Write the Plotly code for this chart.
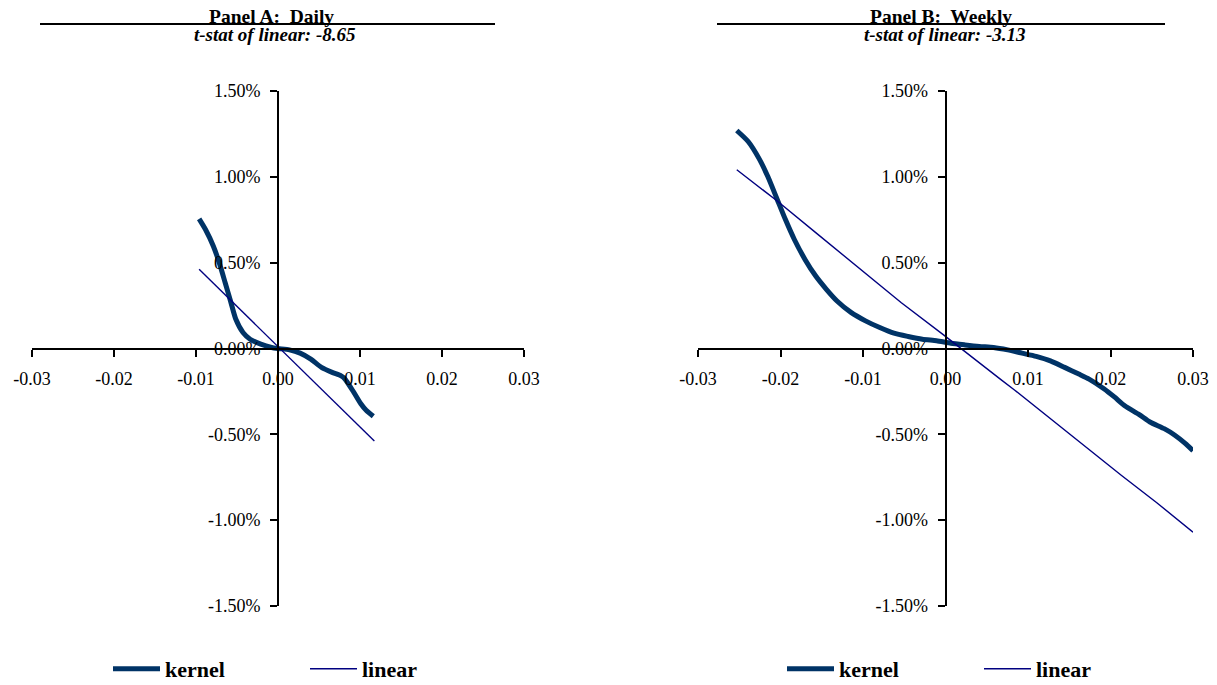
import plotly.graph_objects as go

# ---------------- data (y in percent) ----------------
kernel_a_x = [-0.00962, -0.00884, -0.00788, -0.0071, -0.00644, -0.00579, -0.00514, -0.00427,
              -0.0034, -0.0021, -0.00078, 0.0, 0.0014, 0.0027, 0.004, 0.0053, 0.0066, 0.0077,
              0.00814, 0.00923, 0.0101, 0.01075, 0.01162]
kernel_a_y = [0.755, 0.693, 0.596, 0.49, 0.383, 0.277, 0.170, 0.093, 0.054, 0.025, 0.006, 0.0,
              -0.008, -0.027, -0.062, -0.11, -0.139, -0.159, -0.176, -0.254, -0.322, -0.36, -0.395]

linear_a_x = [-0.00962, -0.005, -0.0015, 0.0, 0.004, 0.008, 0.01175]
linear_a_y = [0.461, 0.245, 0.083, 0.012, -0.176, -0.36, -0.539]

kernel_b_x = [-0.0253, -0.02392, -0.02263, -0.02155, -0.02047, -0.0194, -0.01832, -0.01703,
              -0.01573, -0.01444, -0.01315, -0.01142, -0.0097, -0.00797, -0.00625, -0.00453,
              -0.0028, -0.00108, 0.00065, 0.00237, 0.0041, 0.00582, 0.00754, 0.00927, 0.01099,
              0.01272, 0.01444, 0.01616, 0.0174, 0.0192, 0.02047, 0.02177, 0.02349, 0.02478,
              0.02651, 0.0278, 0.02909, 0.03]
kernel_b_y = [1.270, 1.206, 1.109, 1.003, 0.877, 0.751, 0.635, 0.519, 0.422, 0.345, 0.277, 0.209,
              0.161, 0.122, 0.089, 0.070, 0.054, 0.045, 0.031, 0.021, 0.012, 0.006, -0.008, -0.027,
              -0.046, -0.072, -0.110, -0.149, -0.178, -0.234, -0.282, -0.335, -0.385, -0.428,
              -0.467, -0.505, -0.554, -0.595]

linear_b_x = [-0.0253, -0.02047, -0.01573, -0.01056, -0.00539, -0.0002, 0.0019, 0.00668, 0.0084,
              0.01272, 0.01703, 0.02134, 0.02565, 0.03]
linear_b_y = [1.041, 0.862, 0.675, 0.47, 0.268, 0.078, -0.002, -0.18, -0.243, -0.41, -0.578,
              -0.740, -0.900, -1.07]

x_ticks = [-0.03, -0.02, -0.01, 0.0, 0.01, 0.02, 0.03]
x_tick_labels = ["-0.03", "-0.02", "-0.01", "0.00", "0.01", "0.02", "0.03"]
y_ticks = [-1.5, -1.0, -0.5, 0.0, 0.5, 1.0, 1.5]
y_tick_labels = ["-1.50%", "-1.00%", "-0.50%", "0.00%", "0.50%", "1.00%", "1.50%"]

titles = ["Panel A:  Daily", "Panel B:  Weekly"]
subtitles = ["t-stat of linear: -8.65", "t-stat of linear: -3.13"]

# ---------------- style ----------------
WIN_W, WIN_H = 1217, 685
OFF = 8  # default page body margin
W, H = WIN_W - OFF, WIN_H - OFF
KERNEL_COLOR = "#003366"
LINEAR_COLOR = "#000080"
FONT = "Liberation Serif, Times New Roman, serif"


def px(x):
    return (x - OFF) / W


def py(y):
    return 1 - (y - OFF) / H


xdom = [[px(32), px(524)], [px(698), px(1193)]]
ydom = [py(606), py(91)]
ymid = (ydom[0] + ydom[1]) / 2

fig = go.Figure()

panels = [(kernel_a_x, kernel_a_y, linear_a_x, linear_a_y),
          (kernel_b_x, kernel_b_y, linear_b_x, linear_b_y)]

for i, (kx, ky, lx, ly) in enumerate(panels):
    xa = "x" if i == 0 else "x2"
    ya = "y" if i == 0 else "y2"
    lg = "legend" if i == 0 else "legend2"
    fig.add_trace(go.Scatter(x=kx, y=ky, mode="lines", name="kernel",
                             line=dict(color=KERNEL_COLOR, width=5, shape="spline", smoothing=0.6),
                             xaxis=xa, yaxis=ya, legend=lg))
    fig.add_trace(go.Scatter(x=lx, y=ly, mode="lines", name="linear",
                             line=dict(color=LINEAR_COLOR, width=1.4),
                             xaxis=xa, yaxis=ya, legend=lg))

axis_common = dict(showgrid=False, zeroline=False, showline=True, linecolor="black",
                   linewidth=2, ticks="outside", ticklen=7, tickwidth=2, tickcolor="black",
                   automargin=False,
                   tickfont=dict(family=FONT, size=18, color="black"))

for i in range(2):
    xkey = "xaxis" if i == 0 else "xaxis2"
    ykey = "yaxis" if i == 0 else "yaxis2"
    xmid = (xdom[i][0] + xdom[i][1]) / 2
    fig.update_layout(**{
        xkey: dict(axis_common, domain=xdom[i], range=[-0.03, 0.03], tickmode="array",
                   tickvals=x_ticks, ticktext=x_tick_labels, anchor="free", position=ymid,
                   ticklabelstandoff=7),
        ykey: dict(axis_common, domain=ydom, range=[-1.5, 1.5], tickmode="array",
                   tickvals=y_ticks, ticktext=y_tick_labels, anchor="free", position=xmid,
                   ticklabelstandoff=6),
    })

# titles and rule lines
title_cx = [271, 941]
rule_x = [(40, 495), (717, 1165)]
for i in range(2):
    fig.add_annotation(x=px(title_cx[i]), y=py(16), xref="paper", yref="paper",
                       xanchor="center", yanchor="middle", borderpad=0,
                       text="<b>" + titles[i] + "</b>", showarrow=False,
                       font=dict(family=FONT, size=19.5, color="black"))
    fig.add_annotation(x=px(title_cx[i] + 4), y=py(34), xref="paper", yref="paper",
                       xanchor="center", yanchor="middle", borderpad=0,
                       text="<b><i>" + subtitles[i] + "</i></b>", showarrow=False,
                       font=dict(family=FONT, size=19, color="black"))
    fig.add_shape(type="line", xref="paper", yref="paper",
                  x0=px(rule_x[i][0]), x1=px(rule_x[i][1]), y0=py(24), y1=py(24),
                  line=dict(color="black", width=2))

legend_common = dict(orientation="h", xanchor="left", yanchor="middle",
                     font=dict(family=FONT, size=22, color="black", weight="bold"),
                     bgcolor="rgba(0,0,0,0)", entrywidth=135, itemwidth=47)
fig.update_layout(
    legend=dict(legend_common, x=px(108), y=py(669)),
    legend2=dict(legend_common, x=px(782), y=py(669)),
)

fig.update_layout(width=W, height=H,
                  margin=dict(l=0, r=0, t=0, b=0, pad=0, autoexpand=False),
                  paper_bgcolor="white", plot_bgcolor="white", showlegend=True)

fig.write_html("out.html")
